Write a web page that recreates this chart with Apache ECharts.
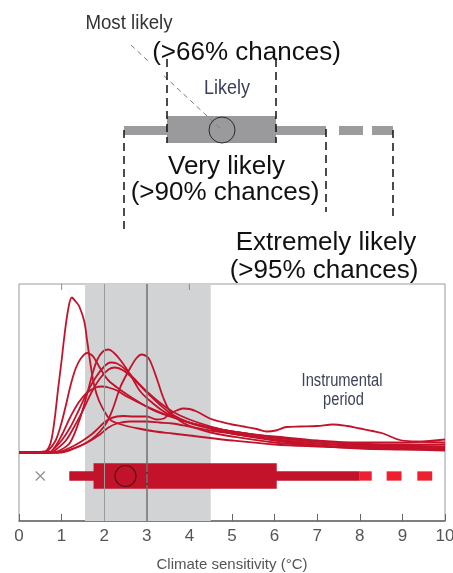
<!DOCTYPE html>
<html><head><meta charset="utf-8">
<script src="https://cdn.jsdelivr.net/npm/echarts@6/dist/echarts.min.js"></script>
<style>html,body{margin:0;padding:0;background:#fff}#c{width:453px;height:573px}</style>
</head><body><div id="c"></div>
<script>
// ---------- data (climate sensitivity in °C, relative probability density) ----------
var xTicks = [0,1,2,3,4,5,6,7,8,9,10];
var pdfA = [[0,0],[0.6,0.01],[0.7,0.05],[0.77,0.145],[0.85,0.38],[0.92,0.645],[1.0,0.92],[1.06,1.145],[1.15,1.42],[1.24,1.55],[1.33,1.51],[1.41,1.465],[1.53,1.315],[1.6,1.115],[1.68,0.88],[1.76,0.68],[1.88,0.515],[2.07,0.365],[2.18,0.315],[2.4,0.28],[2.8,0.24],[3.2,0.21],[3.6,0.19],[4,0.17],[5,0.12],[6,0.08],[7,0.06],[8,0.045],[9,0.035],[10,0.03]];
var pdfB = [[0,0],[0.6,0],[0.7,0.025],[0.86,0.12],[0.98,0.27],[1.1,0.47],[1.21,0.67],[1.33,0.84],[1.45,0.94],[1.6,0.995],[1.72,0.97],[1.8,0.92],[1.95,0.81],[2.1,0.72],[2.4,0.62],[2.68,0.54],[3.07,0.44],[3.47,0.37],[4,0.3],[4.5,0.25],[5,0.21],[6,0.15],[7,0.11],[8,0.08],[9,0.07],[10,0.06]];
var pdfC = [[0,0],[0.8,0],[1.0,0.03],[1.2,0.1],[1.4,0.3],[1.57,0.54],[1.72,0.78],[1.84,0.93],[1.97,1.01],[2.1,1.03],[2.22,1.0],[2.37,0.93],[2.61,0.78],[2.84,0.615],[3.08,0.515],[3.38,0.415],[3.7,0.345],[4.1,0.28],[4.5,0.24],[5,0.19],[6,0.12],[7,0.07],[8,0.04],[9,0.03],[10,0.02]];
var pdfD = [[0,0],[0.9,0],[1.2,0.03],[1.5,0.08],[1.7,0.13],[1.9,0.21],[2.06,0.3],[2.21,0.445],[2.37,0.645],[2.5,0.76],[2.61,0.845],[2.75,0.94],[2.88,0.98],[3.0,0.96],[3.08,0.915],[3.23,0.745],[3.39,0.545],[3.54,0.415],[3.78,0.315],[4.1,0.25],[4.5,0.2],[5,0.16],[6,0.1],[7,0.07],[8,0.05],[9,0.04],[10,0.04]];
var pdfE1 = [[0,0],[0.7,0],[0.85,0.05],[1.0,0.12],[1.2,0.25],[1.4,0.42],[1.6,0.6],[1.8,0.75],[2.0,0.86],[2.15,0.9],[2.3,0.89],[2.5,0.83],[2.7,0.74],[3.0,0.61],[3.3,0.5],[3.6,0.41],[4,0.33],[4.5,0.26],[5,0.21],[6,0.15],[7,0.11],[8,0.09],[9,0.08],[10,0.08]];
var pdfE2 = [[0,0],[0.75,0],[0.9,0.04],[1.1,0.12],[1.3,0.26],[1.5,0.42],[1.7,0.6],[1.9,0.74],[2.1,0.83],[2.25,0.85],[2.45,0.82],[2.7,0.73],[3.0,0.6],[3.3,0.48],[3.6,0.38],[4,0.3],[4.5,0.24],[5,0.19],[6,0.13],[7,0.09],[8,0.07],[9,0.06],[10,0.05]];
var pdfF = [[0,0],[0.7,0],[0.85,0.06],[1.0,0.17],[1.2,0.35],[1.4,0.5],[1.6,0.6],[1.8,0.65],[1.95,0.66],[2.1,0.65],[2.3,0.62],[2.53,0.56],[3.0,0.46],[3.5,0.37],[4,0.3],[4.5,0.25],[5,0.21],[5.5,0.18],[6,0.16],[7,0.12],[8,0.1],[9,0.1],[10,0.13]];
var pdfG = [[0,0],[0.9,0],[1.1,0.03],[1.3,0.07],[1.5,0.12],[1.7,0.18],[1.82,0.225],[2.0,0.3],[2.14,0.34],[2.3,0.36],[2.44,0.365],[2.7,0.36],[3.0,0.36],[3.23,0.33],[3.4,0.34],[3.54,0.39],[3.7,0.42],[3.86,0.44],[4.0,0.435],[4.17,0.41],[4.48,0.34],[4.72,0.31],[5.0,0.28],[5.27,0.26],[5.58,0.235],[5.81,0.21],[6.03,0.22],[6.28,0.255],[6.6,0.26],[7.0,0.265],[7.37,0.28],[7.7,0.265],[8.0,0.24],[8.3,0.215],[8.55,0.19],[8.94,0.125],[9.3,0.11],[10,0.1]];
var pdfG2 = [[0,0],[1.0,0],[1.3,0.04],[1.6,0.1],[1.9,0.18],[2.1,0.25],[2.3,0.29],[2.6,0.31],[3.0,0.31],[3.3,0.3],[3.6,0.29],[4.0,0.26],[4.5,0.22],[5,0.19],[6,0.13],[7,0.09],[8,0.06],[9,0.05],[10,0.05]];
var pdfList = [pdfA,pdfB,pdfC,pdfD,pdfE1,pdfE2,pdfF,pdfG,pdfG2];

var likelyBand = [1.55, 4.5];          // grey shaded range
var refLines = [2, 3];                 // vertical reference lines
var topTicks = [1, 4];
var rangeVeryLikely = [[1.18, 8.0]];   // thin bar
var rangeLikely = [[1.75, 6.05]];      // thick box
var rangeExtreme = [[8.0, 8.28],[8.63, 8.98],[9.35, 9.70]]; // bright dashes
var mostLikelyValue = [2.5];
var crossValue = [0.5];
var colonValue = [3.0];

// ---------- styles ----------
var BAR_Y = -0.235, Y_MIN = -0.685, Y_MAX = 1.685;
var RED = '#c2132b', BRIGHT = '#ee1f2f';
var ARIAL = '"Liberation Sans",Arial,sans-serif';

function barRenderer(th){
  return function(params, api){
    var a = api.coord([api.value(0), BAR_Y]);
    var b = api.coord([api.value(1), BAR_Y]);
    return {type:'rect', shape:{x:a[0], y:a[1]-th/2, width:b[0]-a[0], height:th}, style:{fill: api.visual('color')}};
  };
}

var series = [];
series.push({type:'line', data:[], z:1, silent:true,
  markArea:{silent:true, itemStyle:{color:'#d1d3d5'}, data:[[{xAxis:likelyBand[0]},{xAxis:likelyBand[1]}]]},
  markLine:{silent:true, symbol:'none', label:{show:false},
    data: refLines.map(function(v,i){return {xAxis:v, lineStyle:{color: i===0?'#9a9a9a':'#707070', width: i===0?1:1.5, type:'solid'}};})}
});
pdfList.forEach(function(d){
  series.push({type:'line', data:d, smooth:0.35, showSymbol:false, z:3, silent:true,
    lineStyle:{color:RED, width:1.8}});
});
series.push({type:'custom', renderItem:barRenderer(9.3), data:rangeVeryLikely, itemStyle:{color:RED}, z:4, encode:{x:[0,1]}});
series.push({type:'custom', renderItem:barRenderer(9.3), data:rangeExtreme, itemStyle:{color:BRIGHT}, z:4, encode:{x:[0,1]}});
series.push({type:'custom', renderItem:barRenderer(25.6), data:rangeLikely, itemStyle:{color:RED}, z:4, encode:{x:[0,1]}});
series.push({type:'scatter', data:mostLikelyValue.map(function(v){return [v,BAR_Y];}), symbol:'circle', symbolSize:21, z:5, silent:true,
  itemStyle:{color:'rgba(0,0,0,0)', borderColor:'#3a1218', borderWidth:1.2}});
series.push({type:'scatter', data:crossValue.map(function(v){return [v,BAR_Y];}), symbol:'path://M0,0L10,10M10,0L0,10', symbolSize:9, z:5, silent:true,
  itemStyle:{color:'rgba(0,0,0,0)', borderColor:'#777', borderWidth:1.3}});
series.push({type:'scatter', data:[].concat(
    colonValue.map(function(v){return {value:[v,BAR_Y], symbolOffset:[0,-3]};}),
    colonValue.map(function(v){return {value:[v,BAR_Y], symbolOffset:[0,8]};})),
  symbol:'circle', symbolSize:2.5, z:5, silent:true, itemStyle:{color:'#3a3a3a'}});
series.push({type:'scatter', data:topTicks.map(function(v){return [v,Y_MAX];}), symbol:'rect', symbolSize:[1,6], symbolOffset:[0,3], z:2, silent:true, itemStyle:{color:'#777'}});

// ---------- schematic legend (drawn as annotation graphics) ----------
var G = '#9c9c9e';
function vdash(x,y1,y2){return {type:'line', z:30, shape:{x1:x,y1:y1,x2:x,y2:y2}, style:{stroke:'#111', lineWidth:1.5, lineDash:[8,5]}};}
function txt(t,x,y,font,fill,extra,sx){var s={text:t,x:0,y:0,font:font,fill:fill,align:'center',verticalAlign:'middle'}; if(extra){for(var k in extra)s[k]=extra[k];} return {type:'text', z:20, x:x, y:y, scaleX:sx||1, style:s};}
var graphics = [
  txt('Most likely',129,23,'21px '+ARIAL,'#333',null,0.89),
  {type:'line', z:10, shape:{x1:131,y1:45,x2:222,y2:130}, style:{stroke:'#7a7a7a', lineWidth:1, lineDash:[5,4]}},
  txt('(>66% chances)',246.5,53,'26px '+ARIAL,'#111',{backgroundColor:'#fff', padding:[9,3,6,3]}),
  txt('Likely',227,88,'20px '+ARIAL,'#3b3f58',null,0.9),
  {type:'rect', z:5, shape:{x:124,y:126,width:202,height:9}, style:{fill:G}},
  {type:'rect', z:5, shape:{x:167,y:116,width:109,height:27}, style:{fill:'#9a9a9c'}},
  {type:'rect', z:5, shape:{x:339,y:126,width:24,height:9}, style:{fill:G}},
  {type:'rect', z:5, shape:{x:372,y:126,width:21,height:9}, style:{fill:G}},
  {type:'circle', z:11, shape:{cx:222,cy:130,r:13}, style:{fill:'none', stroke:'#2a2a2a', lineWidth:1}},
  vdash(124,130,232), vdash(167,59,143), vdash(276,59,143), vdash(326,129,212), vdash(393,130,217),
  txt('Very likely',226.5,167,'26px '+ARIAL,'#111'),
  txt('(>90% chances)',225,193,'26px '+ARIAL,'#111'),
  txt('Extremely likely',326,243,'26px '+ARIAL,'#111'),
  txt('(>95% chances)',324,271,'26px '+ARIAL,'#111'),
  txt('Instrumental',342,381,'17.5px '+ARIAL,'#3d4259',null,0.84),
  txt('period',343.5,400,'17.5px '+ARIAL,'#3d4259',null,0.84)
];

var chart = echarts.init(document.getElementById('c'), null, {renderer:'canvas'});
chart.setOption({
  animation:false,
  backgroundColor:'#fff',
  grid:{left:19, top:284, width:426, height:237, show:true, borderColor:'#9a9a9a', borderWidth:1, backgroundColor:'transparent', containLabel:false, outerBoundsMode:'none'},
  xAxis:{type:'value', min:0, max:10, interval:1,
    axisLine:{show:true, onZero:false, lineStyle:{color:'#666', width:1.5}},
    axisTick:{show:true, inside:true, length:7, lineStyle:{color:'#666'}},
    axisLabel:{margin:7, color:'#555', fontSize:17, fontFamily:ARIAL, formatter:function(v){return xTicks.indexOf(v)>=0?String(v):'';}},
    splitLine:{show:false},
    name:'Climate sensitivity (°C)', nameLocation:'middle', nameGap:36,
    nameTextStyle:{color:'#555', fontSize:15, fontFamily:ARIAL}},
  yAxis:{type:'value', min:Y_MIN, max:Y_MAX, show:false, splitLine:{show:false}},
  series:series,
  graphic:{elements:graphics}
});
</script></body></html>
